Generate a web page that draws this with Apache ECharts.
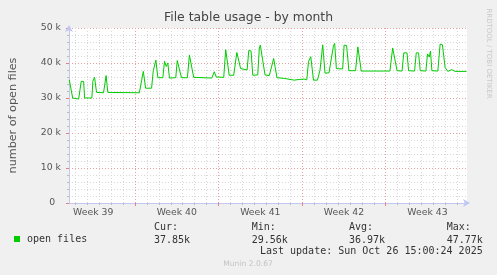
<!DOCTYPE html>
<html><head><meta charset="utf-8">
<script src="https://cdn.jsdelivr.net/npm/echarts@6/dist/echarts.min.js"></script>
<style>html,body{margin:0;padding:0;background:#f0f0f0;}#c{width:497px;height:275px;}</style>
</head><body><div id="c"></div>
<script>
// x values are days since Monday of week 39 (00:00)
const days = [1.500,1.667,1.783,2.283,2.417,2.500,2.700,2.783,3.392,3.475,3.617,3.700,3.783,4.367,4.583,4.725,
  7.367,7.700,7.783,7.892,8.392,8.533,8.617,8.750,8.917,9.333,9.475,9.617,9.750,9.892,10.417,10.542,10.700,10.892,
  11.392,11.558,11.725,11.917,13.433,13.642,13.808,14.433,14.600,14.725,14.892,15.017,15.267,15.533,15.667,15.850,
  16.392,16.533,16.725,16.867,17.283,17.417,17.500,17.667,17.892,18.250,18.617,18.892,19.500,20.333,20.750,21.167,
  21.392,21.533,21.725,21.950,22.283,22.500,22.725,22.783,22.917,23.250,23.617,23.725,23.867,24.392,24.517,24.725,
  24.917,25.475,25.667,25.808,25.950,28.350,28.583,28.725,28.950,29.367,29.517,29.783,29.917,30.417,30.558,30.750,
  30.892,31.367,31.500,31.642,31.750,31.867,32.367,32.558,32.750,32.975,33.200,33.533,33.808,34.767];
const openFiles = [35200,35000,30000,29700,29800,34800,34700,30000,30000,34800,35900,36000,31600,31500,36400,31600,
  31500,37600,37900,32800,32800,37800,37500,40800,35800,35800,40500,39000,40000,35700,35800,40700,40600,35800,
  35800,42300,41800,35900,35700,37500,36000,35900,43800,43700,36500,36200,36500,43000,42800,38400,
  38000,43600,43400,36500,36600,44300,45100,44900,36600,36400,41300,35800,35600,35100,35300,35400,
  35200,40400,41800,35100,35100,38000,45200,45000,37100,37200,44800,45600,38400,38300,45100,45000,
  37800,37800,44600,45000,37700,37700,44300,44200,37800,37700,42900,42900,37800,37700,42900,42900,
  37800,37700,42600,41700,43400,37800,37700,45400,45200,38700,37600,38100,37600,37600];

const weekLabels = ['Week 39','Week 40','Week 41','Week 42','Week 43'];
const weekLabelPos = [3.5, 10.5, 17.5, 24.5, 31.5];
const weekStarts = [7, 14, 21, 28];
const dayTicks = [];
for (let d = 2; d <= 34; d++) if (d % 7 !== 0) dayTicks.push(d);
const yMinor = [];
for (let v = 2000; v < 50000; v += 2000) if (v % 10000 !== 0) yMinor.push(v);

const statLabels = ['Cur:', 'Min:', 'Avg:', 'Max:'];
const statValues = ['37.85k', '29.56k', '36.97k', '47.77k'];
const lastUpdate = 'Last update: Sun Oct 26 15:00:24 2025';

const X_MIN = 1.475, X_MAX = 34.808;
const axisColor = '#c2c6f2';
const minorColor = '#d8d8d8';
const majorColor = '#e6a0a0';
const sans = 'DejaVu Sans';
const mono = 'DejaVu Sans Mono';

const chart = echarts.init(document.getElementById('c'), null, {renderer: 'canvas'});
const statX = [154, 251.7, 349, 446.7];
const graphics = [];
statLabels.forEach((t, i) => {
  graphics.push({type: 'text', x: statX[i], y: 227.3, style: {text: t, font: '10px "' + mono + '"', fill: '#333', align: 'left', verticalAlign: 'middle'}});
  graphics.push({type: 'text', x: statX[i], y: 240, style: {text: statValues[i], font: '10px "' + mono + '"', fill: '#333', align: 'left', verticalAlign: 'middle'}});
});
graphics.push({type: 'text', x: 482.7, y: 251.7, style: {text: lastUpdate, font: '10px "' + mono + '"', fill: '#333', align: 'right', verticalAlign: 'middle'}});
graphics.push({type: 'text', x: 248, y: 264, style: {text: 'Munin 2.0.67', font: '7.6px "' + sans + '"', fill: '#c4c4c4', align: 'center', verticalAlign: 'middle'}});
graphics.push({type: 'text', x: 488.5, y: 53.5, rotation: -Math.PI / 2, style: {text: 'RRDTOOL / TOBI OETIKER', font: '7px "' + sans + '"', fill: '#c8c8c8', align: 'center', verticalAlign: 'middle'}});

chart.setOption({
  animation: false,
  backgroundColor: '#f0f0f0',
  title: {text: 'File table usage - by month', left: 'center', top: 12, padding: 0,
    textStyle: {fontFamily: sans, fontSize: 12.4, fontWeight: 'normal', color: '#444'}},
  legend: {data: ['open files'], left: 14, top: 234, padding: 0, icon: 'rect', itemWidth: 6, itemHeight: 6,
    textStyle: {fontFamily: mono, fontSize: 10, color: '#333', padding: [0, 0, 0, 2]}},
  grid: {left: 67, top: 28, width: 400, height: 175, show: true, backgroundColor: '#ffffff', borderWidth: 0},
  xAxis: [
    {type: 'value', min: X_MIN, max: X_MAX, position: 'bottom',
      axisLine: {show: true, lineStyle: {color: axisColor, width: 1}, symbol: ['none', 'arrow'], symbolSize: [6, 7], symbolOffset: [0, 3]},
      axisTick: {show: true, customValues: dayTicks, length: 2, lineStyle: {color: '#bbbbbb'}},
      axisLabel: {show: true, customValues: weekLabelPos, margin: 5, fontFamily: sans, fontSize: 9.3, color: '#555',
        formatter: v => { const i = weekLabelPos.indexOf(v); return i >= 0 ? weekLabels[i] : ''; }},
      splitLine: {show: true, lineStyle: {color: minorColor, type: [1, 2], width: 1}}},
    {type: 'value', min: X_MIN, max: X_MAX, position: 'bottom',
      axisLine: {show: false},
      axisTick: {show: true, customValues: weekStarts, length: 3, lineStyle: {color: '#e08080'}},
      axisLabel: {show: false},
      splitLine: {show: true, lineStyle: {color: majorColor, type: [1, 2], width: 1}}}
  ],
  yAxis: [
    {type: 'value', min: 0, max: 50000, position: 'left',
      axisLine: {show: true, lineStyle: {color: axisColor, width: 1}, symbol: ['none', 'arrow'], symbolSize: [6, 7], symbolOffset: [0, 3]},
      axisTick: {show: true, customValues: yMinor, length: 2, lineStyle: {color: '#bbbbbb'}},
      axisLabel: {show: false},
      splitLine: {show: true, lineStyle: {color: minorColor, type: [1, 2], width: 1}}},
    {type: 'value', min: 0, max: 50000, interval: 10000, position: 'left', offset: 0,
      axisLine: {show: false},
      axisTick: {show: true, length: 3, lineStyle: {color: '#e08080'}},
      axisLabel: {show: true, margin: 8, fontFamily: sans, fontSize: 9.3, color: '#555',
        formatter: v => v === 0 ? '0  ' : (v / 1000) + ' k'},
      splitLine: {show: true, lineStyle: {color: majorColor, type: [1, 2], width: 1}},
      name: 'number of open files', nameLocation: 'middle', nameGap: 50, nameRotate: 90,
      nameTextStyle: {fontFamily: sans, fontSize: 11.2, color: '#555'}}
  ],
  series: [{
    name: 'open files', type: 'line', xAxisIndex: 0, yAxisIndex: 1, z: 5,
    data: days.map((d, i) => [d, openFiles[i]]),
    showSymbol: false, symbol: 'none', color: '#00cc00',
    lineStyle: {color: '#00cc00', width: 1}
  }],
  graphic: graphics
});
</script></body></html>
